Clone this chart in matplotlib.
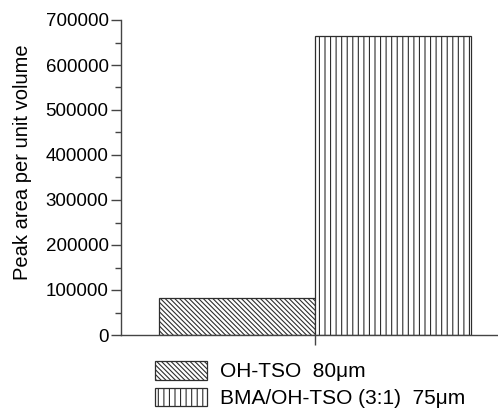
import matplotlib
matplotlib.use("Agg")
import matplotlib.pyplot as plt
from matplotlib.ticker import MultipleLocator, NullFormatter

plt.rcParams['font.family'] = ['Liberation Sans', 'DejaVu Sans']
plt.rcParams['hatch.linewidth'] = 0.8

samples = ["OH-TSO  80\u03bcm", "BMA/OH-TSO (3:1)  75\u03bcm"]
peak_area = [83000, 665000]
hatches = ['\\\\\\\\\\\\\\', '|||']

W, H = 498, 412
fig = plt.figure(figsize=(W / 100, H / 100), dpi=100)
ax = fig.add_axes([121 / W, 1 - 335 / H, (497 - 121) / W, (335 - 20) / H])

positions = [1, 2]
bars = []
for x, v, h, lab in zip(positions, peak_area, hatches, samples):
    b = ax.bar(x, v, width=1.0, facecolor='white', edgecolor='#2e2e2e',
               hatch=h, linewidth=0.9, label=lab)
    bars.append(b)

ax.set_xlim(0.256, 2.667)
ax.set_ylim(0, 700000)
ax.yaxis.set_major_locator(MultipleLocator(100000))
ax.yaxis.set_minor_locator(MultipleLocator(50000))
ax.set_xticks([1.5])
ax.xaxis.set_major_formatter(NullFormatter())

for s in ['top', 'right']:
    ax.spines[s].set_visible(False)
for s in ['left', 'bottom']:
    ax.spines[s].set_color('#444444')
    ax.spines[s].set_linewidth(1.0)

ax.tick_params(axis='y', which='major', direction='out', length=7, width=1.0,
               color='#444444', labelsize=13.5, pad=2)
ax.tick_params(axis='y', which='minor', direction='out', length=4, width=1.0,
               color='#444444')
ax.tick_params(axis='x', which='major', direction='out', length=7, width=1.0,
               color='#444444')

ax.set_ylabel("Peak area per unit volume", fontsize=14.5)
ax.yaxis.set_label_coords(-89 / (497 - 121), 0.55)

fig.legend(handles=[b[0] for b in bars], labels=samples,
           loc='upper left', bbox_to_anchor=(155 / W, 1 - 361 / H),
           frameon=False, fontsize=15, handlelength=2.5, handleheight=1.0,
           handletextpad=0.6, labelspacing=0.3, borderpad=0.0,
           borderaxespad=0.0)

fig.savefig("out.png", dpi=100)
